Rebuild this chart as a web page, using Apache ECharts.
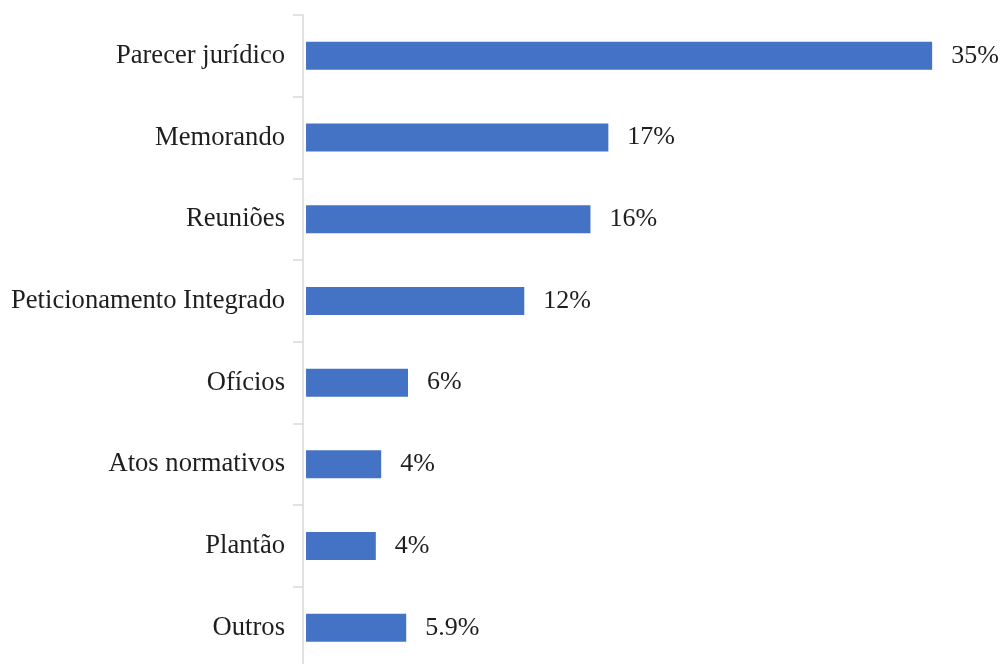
<!DOCTYPE html>
<html>
<head>
<meta charset="utf-8">
<script src="https://cdn.jsdelivr.net/npm/echarts@6/dist/echarts.min.js"></script>
<style>
html,body{margin:0;padding:0;background:#fff;}
#chart{width:1005px;height:664px;}
</style>
</head>
<body>
<div id="chart"></div>
<script>
const categories = ['Parecer jurídico', 'Memorando', 'Reuniões', 'Peticionamento Integrado', 'Ofícios', 'Atos normativos', 'Plantão', 'Outros'];
const values = [35, 16.9, 15.9, 12.2, 5.7, 4.2, 3.9, 5.6];
const valueLabels = ['35%', '17%', '16%', '12%', '6%', '4%', '4%', '5.9%'];

const chart = echarts.init(document.getElementById('chart'));
const font = '"Liberation Serif", "Times New Roman", serif';
chart.setOption({
  animation: false,
  backgroundColor: '#ffffff',
  grid: { left: 303, top: 15, height: 653.6, width: 700.7, containLabel: false, outerBoundsMode: 'none' },
  xAxis: {
    type: 'value', min: -0.17, max: 39, show: false
  },
  yAxis: {
    type: 'category',
    data: categories,
    inverse: true,
    axisLine: { show: true, onZero: false, lineStyle: { color: '#d9d9d9', width: 1.5 } },
    axisTick: { show: true, length: 10, lineStyle: { color: '#d9d9d9', width: 1.5 } },
    axisLabel: { margin: 18, fontFamily: font, fontSize: 26.6, color: '#1e1e1e' },
    splitLine: { show: false }
  },
  series: [{
    type: 'bar',
    data: values,
    barWidth: 28,
    itemStyle: { color: '#4472C4' },
    label: {
      show: true,
      position: 'right',
      distance: 19,
      fontFamily: font,
      fontSize: 26,
      color: '#1e1e1e',
      formatter: p => valueLabels[p.dataIndex]
    }
  }]
});
</script>
</body>
</html>
